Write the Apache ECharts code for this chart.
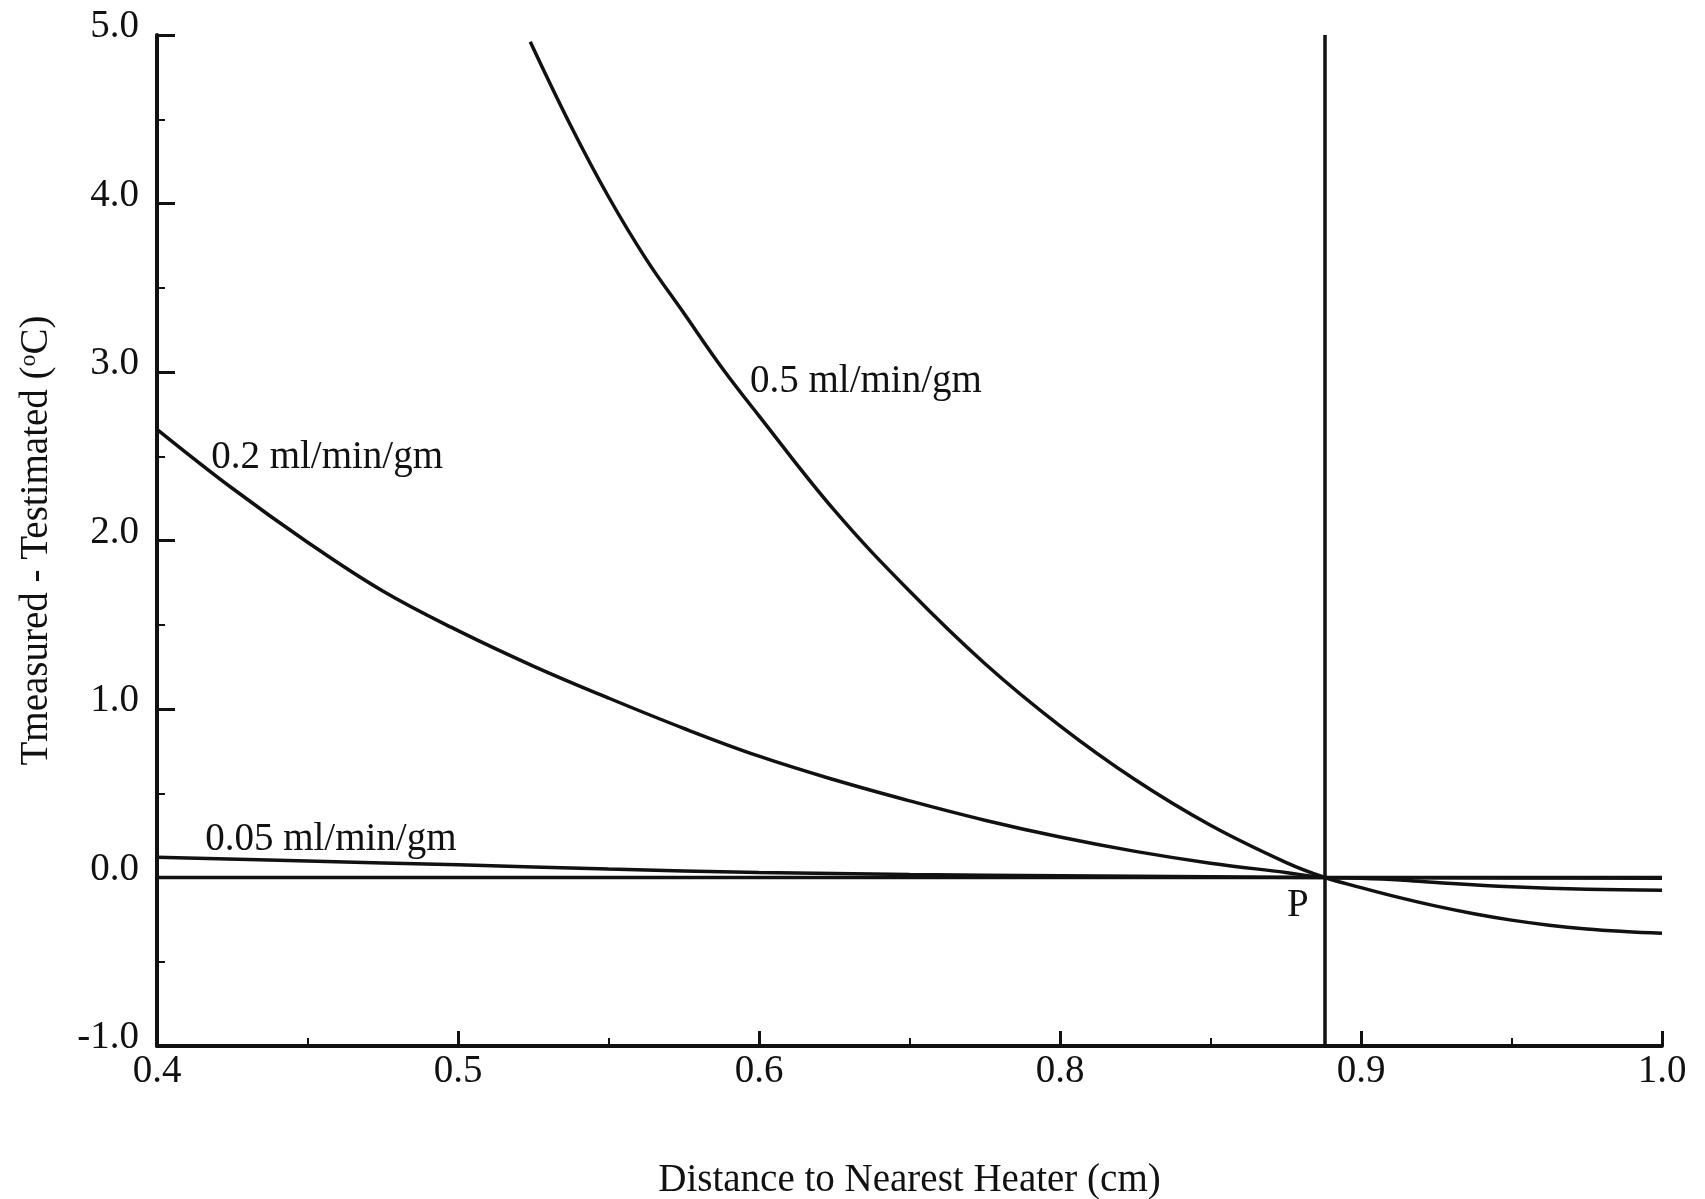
<!DOCTYPE html>
<html>
<head>
<meta charset="utf-8">
<script src="https://cdn.jsdelivr.net/npm/echarts@6/dist/echarts.min.js"></script>
<style>
  html, body { margin: 0; padding: 0; background: #fff; }
  #main { width: 1705px; height: 1199px; }
</style>
</head>
<body>
<div id="main"></div>
<script>
// x axis is drawn on evenly spaced positions 0..5, labels as printed on the figure
var xLabels = ['0.4', '0.5', '0.6', '0.8', '0.9', '1.0'];

// 0.5 ml/min/gm
var flow05X = [1.24, 1.375, 1.5, 1.625, 1.75, 1.875, 2.0, 2.25, 2.5, 2.75, 3.0, 3.25, 3.5, 3.75, 3.88, 4.0, 4.125, 4.25, 4.375, 4.5, 4.625, 4.75, 4.875, 5.0];
var flow05Y = [4.96, 4.46, 4.04, 3.67, 3.35, 3.03, 2.74, 2.18, 1.70, 1.27, 0.90, 0.58, 0.31, 0.09, 0, -0.06, -0.118, -0.17, -0.215, -0.253, -0.283, -0.305, -0.32, -0.331];

// 0.2 ml/min/gm
var flow02X = [0, 0.25, 0.5, 0.75, 1.0, 1.25, 1.5, 1.75, 2.0, 2.25, 2.5, 2.75, 3.0, 3.25, 3.5, 3.75, 3.88, 4.0, 4.13, 4.25, 4.5, 4.75, 5.0];
var flow02Y = [2.66, 2.31, 1.99, 1.70, 1.465, 1.255, 1.065, 0.885, 0.72, 0.58, 0.455, 0.34, 0.24, 0.155, 0.085, 0.03, 0, -0.005, -0.015, -0.03, -0.055, -0.07, -0.075];

// 0.05 ml/min/gm
var flow005X = [0, 0.5, 1.0, 1.5, 2.0, 2.5, 3.0, 3.5, 3.88, 4.5, 5.0];
var flow005Y = [0.12, 0.098, 0.075, 0.05, 0.03, 0.018, 0.01, 0.004, 0, -0.003, -0.004];

// zero line
var zeroX = [0, 5];
var zeroY = [0, 0];

// point P (where curves cross)
var pointPX = 3.88;

var serif = 'Liberation Serif';
var ink = '#111';
var fs = 39;

function zip(xs, ys) {
  return xs.map(function (x, i) { return [x, ys[i]]; });
}

function curveLabel(text, coord) {
  return {
    symbol: 'circle',
    symbolSize: 0,
    silent: true,
    data: [{
      coord: coord,
      label: {
        show: true,
        formatter: text,
        position: 'right',
        distance: 0,
        color: ink,
        fontFamily: serif,
        fontSize: fs
      }
    }]
  };
}

var chartDom = document.getElementById('main');
var myChart = echarts.init(chartDom);
var option = {
  backgroundColor: '#fff',
  animation: false,
  grid: { left: 157, right: 43, top: 35, bottom: 153, outerBoundsMode: 'none', containLabel: false },
  xAxis: {
    type: 'value',
    min: 0,
    max: 5,
    interval: 1,
    name: 'Distance to Nearest Heater (cm)',
    nameLocation: 'middle',
    nameGap: 115,
    nameTextStyle: { fontFamily: serif, fontSize: fs, color: ink },
    axisLine: { show: true, onZero: false, lineStyle: { color: ink, width: 4 } },
    axisTick: { show: true, inside: true, length: 15, lineStyle: { color: ink, width: 3 } },
    minorTick: { show: true, splitNumber: 2, length: 8, lineStyle: { color: ink, width: 2 } },
    splitLine: { show: false },
    minorSplitLine: { show: false },
    axisLabel: {
      margin: 6,
      color: ink,
      fontFamily: serif,
      fontSize: fs,
      formatter: function (v) { return xLabels[Math.round(v)]; }
    }
  },
  yAxis: {
    type: 'value',
    min: -1,
    max: 5,
    interval: 1,
    name: 'Tmeasured - Testimated ({sup|o}C)',
    nameLocation: 'middle',
    nameGap: 100,
    nameTextStyle: {
      fontFamily: serif, fontSize: fs, color: ink,
      rich: { sup: { fontFamily: serif, fontSize: 24, color: ink, verticalAlign: 'top', padding: [0, 0, 16, 0] } }
    },
    axisLine: { show: true, onZero: false, lineStyle: { color: ink, width: 4 } },
    axisTick: { show: true, inside: true, length: 18, lineStyle: { color: ink, width: 3 } },
    minorTick: { show: true, splitNumber: 2, length: 8, lineStyle: { color: ink, width: 2 } },
    splitLine: { show: false },
    minorSplitLine: { show: false },
    axisLabel: {
      margin: 18,
      color: ink,
      fontFamily: serif,
      fontSize: fs,
      verticalAlign: 'bottom',
      lineHeight: 16,
      formatter: function (v) { return v.toFixed(1); }
    }
  },
  series: [
    {
      name: 'zero',
      type: 'line',
      data: zip(zeroX, zeroY),
      showSymbol: false,
      lineStyle: { color: ink, width: 3.5 },
      markLine: {
        silent: true,
        symbol: 'none',
        label: { show: false },
        lineStyle: { color: ink, width: 3.5, type: 'solid' },
        data: [{ xAxis: pointPX }]
      },
      markPoint: {
        symbol: 'circle',
        symbolSize: 0,
        silent: true,
        data: [{
          coord: [3.79, -0.17],
          label: { show: true, formatter: 'P', position: 'inside', color: ink, fontFamily: serif, fontSize: fs }
        }]
      }
    },
    {
      name: '0.05 ml/min/gm',
      type: 'line',
      data: zip(flow005X, flow005Y),
      showSymbol: false,
      smooth: 0.4,
      lineStyle: { color: ink, width: 3.5 },
      markPoint: curveLabel('0.05 ml/min/gm', [0.16, 0.225])
    },
    {
      name: '0.2 ml/min/gm',
      type: 'line',
      data: zip(flow02X, flow02Y),
      showSymbol: false,
      smooth: 0.4,
      lineStyle: { color: ink, width: 3.5 },
      markPoint: curveLabel('0.2 ml/min/gm', [0.18, 2.49])
    },
    {
      name: '0.5 ml/min/gm',
      type: 'line',
      data: zip(flow05X, flow05Y),
      showSymbol: false,
      smooth: 0.4,
      lineStyle: { color: ink, width: 3.5 },
      markPoint: curveLabel('0.5 ml/min/gm', [1.97, 2.94])
    }
  ]
};
option && myChart.setOption(option);
</script>
</body>
</html>
